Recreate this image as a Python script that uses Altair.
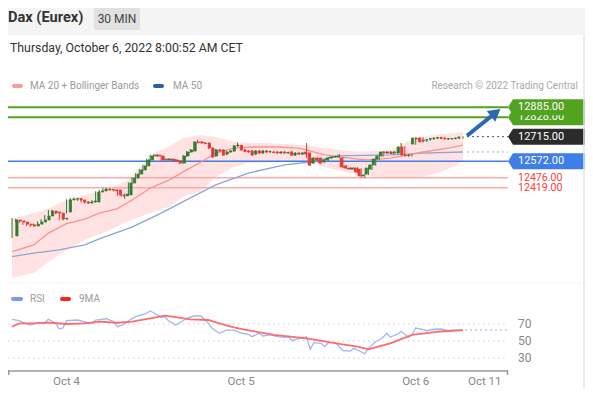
import altair as alt
import pandas as pd

# ---------------- data ----------------
open_ = [12139, 12232, 12226, 12220, 12208, 12203, 12197, 12208, 12220, 12232,
         12255, 12284, 12278, 12272, 12237, 12278, 12348, 12353, 12356, 12348,
         12336, 12330, 12336, 12336, 12394, 12400, 12411, 12406, 12406, 12406,
         12377, 12371, 12377, 12446, 12475, 12498, 12522, 12545, 12580, 12603,
         12608, 12603, 12585, 12580, 12585, 12580, 12574, 12562, 12603, 12626,
         12632, 12684, 12684, 12678, 12678, 12649, 12603, 12638, 12638, 12614,
         12626, 12632, 12661, 12664, 12638, 12632, 12632, 12614, 12632, 12620,
         12632, 12626, 12626, 12626, 12620, 12626, 12620, 12626, 12608, 12620,
         12614, 12626, 12620, 12562, 12591, 12591, 12568, 12580, 12591, 12597,
         12597, 12591, 12545, 12533, 12527, 12533, 12527, 12487, 12498, 12527,
         12551, 12585, 12603, 12626, 12620, 12626, 12620, 12620, 12655, 12608,
         12605, 12672, 12707, 12707, 12690, 12695, 12701, 12704, 12707, 12710,
         12704, 12701, 12703, 12704, 12707]
close = [12232, 12226, 12220, 12208, 12203, 12197, 12208, 12220, 12232, 12255,
         12284, 12272, 12272, 12237, 12242, 12348, 12353, 12356, 12348, 12336,
         12330, 12336, 12342, 12394, 12400, 12411, 12406, 12409, 12400, 12377,
         12371, 12382, 12446, 12475, 12498, 12522, 12545, 12580, 12603, 12608,
         12603, 12580, 12580, 12585, 12577, 12574, 12562, 12603, 12626, 12638,
         12684, 12681, 12678, 12675, 12649, 12597, 12638, 12632, 12608, 12626,
         12632, 12661, 12666, 12638, 12629, 12626, 12608, 12632, 12620, 12632,
         12626, 12629, 12623, 12620, 12626, 12620, 12623, 12608, 12620, 12614,
         12620, 12614, 12550, 12591, 12580, 12562, 12580, 12591, 12597, 12600,
         12603, 12539, 12533, 12527, 12533, 12510, 12487, 12493, 12533, 12551,
         12585, 12603, 12626, 12620, 12626, 12617, 12626, 12655, 12608, 12603,
         12608, 12707, 12701, 12684, 12695, 12698, 12704, 12707, 12710, 12704,
         12701, 12703, 12704, 12707, 12713]
high = [12243, 12240, 12232, 12224, 12214, 12208, 12212, 12224, 12237, 12260,
        12290, 12292, 12284, 12278, 12248, 12352, 12360, 12362, 12360, 12352,
        12342, 12341, 12347, 12398, 12406, 12416, 12416, 12414, 12410, 12410,
        12382, 12386, 12450, 12480, 12503, 12527, 12550, 12585, 12610, 12614,
        12613, 12607, 12590, 12591, 12590, 12585, 12578, 12608, 12632, 12643,
        12688, 12696, 12690, 12684, 12682, 12653, 12643, 12643, 12642, 12631,
        12637, 12666, 12680, 12668, 12643, 12637, 12636, 12637, 12637, 12637,
        12637, 12634, 12631, 12631, 12631, 12631, 12628, 12631, 12625, 12625,
        12626, 12678, 12625, 12596, 12596, 12595, 12585, 12596, 12602, 12605,
        12614, 12596, 12550, 12538, 12538, 12538, 12532, 12498, 12538, 12556,
        12590, 12608, 12631, 12631, 12631, 12631, 12631, 12678, 12660, 12613,
        12613, 12712, 12712, 12712, 12700, 12703, 12709, 12712, 12715, 12715,
        12708, 12707, 12709, 12712, 12717]
low = [12127, 12220, 12214, 12203, 12197, 12191, 12193, 12205, 12216, 12228,
       12250, 12266, 12266, 12230, 12230, 12270, 12342, 12348, 12342, 12332,
       12326, 12326, 12332, 12332, 12390, 12396, 12400, 12402, 12396, 12372,
       12366, 12355, 12372, 12440, 12470, 12494, 12517, 12540, 12575, 12598,
       12597, 12575, 12575, 12576, 12572, 12569, 12555, 12557, 12598, 12621,
       12628, 12676, 12673, 12670, 12644, 12592, 12598, 12627, 12603, 12609,
       12621, 12627, 12657, 12633, 12624, 12621, 12603, 12609, 12615, 12615,
       12621, 12621, 12618, 12615, 12615, 12615, 12615, 12603, 12603, 12609,
       12609, 12591, 12545, 12557, 12575, 12557, 12563, 12575, 12586, 12592,
       12592, 12534, 12528, 12522, 12522, 12505, 12475, 12475, 12493, 12522,
       12546, 12580, 12598, 12615, 12615, 12612, 12615, 12615, 12603, 12598,
       12600, 12668, 12696, 12680, 12685, 12690, 12696, 12700, 12703, 12700,
       12696, 12697, 12699, 12700, 12703]

bb_idx = [0, 6, 10, 15, 20, 27, 32, 35, 38, 43, 47, 52, 56, 61, 65, 70, 75, 79,
          82, 86, 95, 104, 109, 113, 117, 122, 124]
bb_upper = [12238, 12272, 12298, 12348, 12377, 12417, 12464, 12533, 12608, 12655,
            12707, 12724, 12713, 12684, 12678, 12678, 12672, 12666, 12661, 12649,
            12626, 12637, 12690, 12713, 12727, 12736, 12742]
bb_lower = [11895, 11924, 11988, 12058, 12116, 12174, 12226, 12249, 12272, 12307,
            12365, 12400, 12481, 12539, 12562, 12565, 12568, 12568, 12568, 12539,
            12493, 12475, 12475, 12481, 12504, 12545, 12580]

ma20_idx = [0, 6, 10, 15, 20, 24, 29, 33, 36, 38, 43, 48, 52, 56, 61, 66, 73, 79,
            86, 95, 98, 104, 113, 120, 124]
ma20 = [12049, 12087, 12156, 12211, 12237, 12272, 12298, 12348, 12388, 12417,
        12461, 12522, 12568, 12620, 12649, 12655, 12655, 12649, 12609, 12585,
        12580, 12591, 12626, 12649, 12666]

ma50_idx = [0, 6, 13, 20, 24, 33, 41, 48, 56, 65, 75, 82, 90, 104, 113, 124]
ma50 = [12020, 12040, 12058, 12087, 12122, 12191, 12272, 12348, 12435, 12504,
        12551, 12568, 12603, 12609, 12620, 12626]

rsi_idx = [0, 2, 4, 5, 7, 9, 10, 12, 13, 14, 15, 18, 21, 22, 23, 26, 28, 29, 31, 32,
           34, 37, 38, 40, 41, 42, 43, 45, 47, 48, 50, 52, 54, 55, 57, 59, 61, 63, 65, 66,
           68, 69, 71, 73, 75, 76, 77, 79, 81, 82, 83, 85, 86, 87, 89, 90, 91, 93, 94, 96,
           97, 98, 100, 102, 103, 104, 106, 107, 109, 110, 111, 113, 114, 116, 118, 120,
           121, 124]
rsi = [75.5, 73.9, 70, 68.8, 71.2, 71.5, 75.5, 71.2, 64.1, 65.3,
       73.9, 74.7, 71.2, 71.2, 74.7, 76.2, 72.7, 66.8, 70, 73.9,
       78.6, 82.6, 85.3, 80.6, 77.9, 78.6, 73.9, 68.8, 73.9, 76.7,
       79.4, 79.4, 70.8, 64.9, 59.1, 62.9, 62.9, 59.4, 57.9, 55.1,
       59.1, 55.9, 57.1, 55.1, 54.4, 55.3, 50.4, 53.2, 54.7, 40.2,
       48, 47.3, 43.3, 48, 48, 43.3, 38.8, 38.2, 41.4, 37.4,
       34.9, 41.4, 49.2, 54.1, 59.1, 54.7, 57.9, 61.2, 54.7, 57.1,
       65.3, 63.5, 62.1, 63.8, 64.1, 62.1, 62.9, 62.9]
rsi_ma_idx = [0, 2, 6, 10, 15, 20, 24, 29, 33, 38, 42, 44, 49, 54, 57, 61, 65, 72,
              81, 90, 95, 98, 104, 110, 118, 124]
rsi_ma = [66.8, 70.8, 70.8, 71.5, 70, 70.8, 72.7, 71.5, 72.7, 76.7, 79.8, 78.6,
          75.5, 74.7, 70.8, 66.1, 62.6, 57.1, 53.2, 46.5, 43.3, 40.2, 47.3, 57.1,
          61.2, 62.9]

levels_resist = [12885, 12828]
level_pivot = [12572]
levels_support = [12476, 12419]
last_price = [12715]
rsi_grid = [70, 50, 30]
day_labels = ["Oct 4", "Oct 5", "Oct 6", "Oct 11"]
day_idx = [15, 63, 111, 130]
arrow_idx = [125.1, 133.0]
arrow_price = [12720, 12854]

# ---------------- styling ----------------
FONT = "Roboto"
UP = "#2e7d32"
DOWN = "#e53935"
GREEN = "#52a31f"
BLUE = "#3f7de8"
PINK = "#ffaaaa"

X = alt.Scale(domain=[-1.1, 136.38], range=[0, 500], nice=False, zero=False)
YP = alt.Scale(domain=[11850, 12950], range=[277.85, 88.1], nice=False, zero=False)
YR = alt.Scale(domain=[30, 70], range=[350, 316], nice=False, zero=False)

one = pd.DataFrame({"k": [0]})
candles = pd.DataFrame({"i": list(range(len(close))), "open": open_, "high": high,
                        "low": low, "close": close})
candles["dir"] = ["up" if c >= o else "down" for o, c in zip(open_, close)]
bb = pd.DataFrame({"i": bb_idx, "upper": bb_upper, "lower": bb_lower})
m20 = pd.DataFrame({"i": ma20_idx, "p": ma20})
m50 = pd.DataFrame({"i": ma50_idx, "p": ma50})
rs = pd.DataFrame({"i": rsi_idx, "v": rsi})
rsm = pd.DataFrame({"i": rsi_ma_idx, "v": rsi_ma})
arrow = pd.DataFrame({"i": arrow_idx, "p": arrow_price})
head = arrow.tail(1)
days = pd.DataFrame({"i": day_idx, "t": day_labels})


def xq(f="i"):
    return alt.X(f"{f}:Q", scale=X, axis=None)


def yp(f="p"):
    return alt.Y(f"{f}:Q", scale=YP, axis=None)


def yr(f="v"):
    return alt.Y(f"{f}:Q", scale=YR, axis=None)


def txt(s, x, y, size=11, color="#999999", weight="normal", align="left"):
    return alt.Chart(one).mark_text(text=s, align=align, baseline="middle", fontSize=size,
                                    font=FONT, color=color, fontWeight=weight).encode(
        x=alt.value(x), y=alt.value(y))


def box(x, x2, y, y2, color, r=0):
    return alt.Chart(one).mark_rect(color=color, cornerRadius=r).encode(
        x=alt.value(x), x2=alt.value(x2), y=alt.value(y), y2=alt.value(y2))


def hrule(x, x2, y, color, w=1, dash=None):
    kw = {"color": color, "strokeWidth": w}
    if dash:
        kw["strokeDash"] = dash
    return alt.Chart(one).mark_rule(**kw).encode(
        x=alt.value(x), x2=alt.value(x2), y=alt.value(y))


def level_lines(vals, color, w):
    return alt.Chart(pd.DataFrame({"p": vals})).mark_rule(color=color, strokeWidth=w).encode(
        y=yp(), x=alt.value(0), x2=alt.value(500))


TAG = "M-1,0L-0.87,-0.208L1,-0.208L1,0.208L-0.87,0.208Z"


def tag(vals, color):
    return alt.Chart(pd.DataFrame({"p": vals})).mark_point(
        shape=TAG, filled=True, size=5929, opacity=1, color=color, strokeWidth=0).encode(
        y=yp(), x=alt.value(538.5))


def tag_text(vals, color="white", size=11):
    d = pd.DataFrame({"p": vals, "t": [f"{v:.2f}" for v in vals]})
    return alt.Chart(d).mark_text(align="left", baseline="middle", fontSize=size, font=FONT,
                                  color=color).encode(y=yp(), x=alt.value(510), text="t:N")


dir_scale = alt.Scale(domain=["up", "down"], range=[UP, DOWN])

layers = [
    # header
    box(0, 577, 0, 27, "#f4f4f4"),
    box(86, 132, 0, 22, "#e1e1e1", 2),
    txt("Dax (Eurex)", 0, 10, 14.6, "#333333", "bold"),
    txt("30 MIN", 109, 11, 12, "#444444", align="center"),
    txt("Thursday, October 6, 2022 8:00:52 AM CET", 2, 40, 12.3, "#333333"),
    # legend
    box(4, 15, 76, 80, "#ff9a9a", 2),
    txt("MA 20 + Bollinger Bands", 22, 78, 10, "#9a9a9a"),
    box(145, 156, 76, 80, "#2f5ea8", 2),
    txt("MA 50", 165, 78, 10, "#9a9a9a"),
    txt("Research \u00a9 2022 Trading Central", 570, 78, 10, "#aaaaaa", align="right"),
    # Bollinger band
    alt.Chart(bb).mark_area(color="#ffdcdc", opacity=0.8).encode(
        x=xq(), y=yp("upper"), y2="lower:Q"),
    # levels
    level_lines(levels_resist, GREEN, 2),
    level_lines(level_pivot, BLUE, 1.5),
    level_lines(levels_support, PINK, 1.5),
    # moving averages
    alt.Chart(m50).mark_line(color="#8aa6d8", strokeWidth=1.3).encode(x=xq(), y=yp()),
    alt.Chart(m20).mark_line(color="#ff8f8f", strokeWidth=1.3).encode(x=xq(), y=yp()),
    # candles
    alt.Chart(candles).mark_rule(strokeWidth=1).encode(
        x=xq(), y=yp("low"), y2="high:Q",
        color=alt.Color("dir:N", scale=dir_scale, legend=None)),
    alt.Chart(candles).mark_bar(size=2.2, strokeWidth=0.8).encode(
        x=xq(), y=yp("open"), y2="close:Q",
        color=alt.Color("dir:N", scale=dir_scale, legend=None),
        stroke=alt.Stroke("dir:N", scale=dir_scale, legend=None)),
    # dotted to labels
    alt.Chart(pd.DataFrame({"p": last_price})).mark_rule(
        color="#555555", strokeWidth=1, strokeDash=[2, 3]).encode(
        y=yp(), x=alt.value(459), x2=alt.value(500)),
    alt.Chart(m50.tail(1)).mark_rule(color="#8fa8e6", strokeWidth=1, strokeDash=[2, 3]).encode(
        y=yp(), x=alt.value(459), x2=alt.value(500)),
    # arrow
    alt.Chart(arrow).mark_line(color="#2f68b2", strokeWidth=4).encode(x=xq(), y=yp()),
    alt.Chart(head).mark_point(shape="triangle-up", angle=52, size=190, filled=True,
                               opacity=1, color="#2f68b2", strokeWidth=0).encode(
        x=xq(), y=yp()),
    # price tags
    tag([12828], GREEN), tag_text([12828]),
    tag([12885], GREEN), tag_text([12885]),
    tag(last_price, "#2b2b2b"), tag_text(last_price),
    tag(level_pivot, BLUE), tag_text(level_pivot),
    tag_text(levels_support, "#ff3b3b", 10.6),
    # separator & border
    hrule(0, 577, 275, "#e6e6e6", 1, [1, 2]),
    alt.Chart(one).mark_rule(color="#e4e4e4", strokeWidth=1.5).encode(
        x=alt.value(576), y=alt.value(27), y2=alt.value(380)),
    # RSI legend
    box(3, 15, 289, 293, "#7b9be8", 2),
    txt("RSI", 22, 291, 10, "#9a9a9a"),
    box(52, 63, 289, 293, "#ff1f1f", 2),
    txt("9MA", 71, 291, 10, "#9a9a9a"),
    # RSI grid
    alt.Chart(pd.DataFrame({"v": rsi_grid})).mark_rule(
        color="#cccccc", strokeWidth=1, strokeDash=[1.5, 3.5]).encode(
        y=yr(), x=alt.value(0), x2=alt.value(497)),
    alt.Chart(pd.DataFrame({"v": rsi_grid, "t": [str(v) for v in rsi_grid]})).mark_text(
        align="left", baseline="middle", fontSize=12, font=FONT, color="#888888").encode(
        y=yr(), x=alt.value(510), text="t:N"),
    alt.Chart(rs.tail(1)).mark_rule(color="#8fa8f0", strokeWidth=1, strokeDash=[2, 3]).encode(
        y=yr(), x=alt.value(457), x2=alt.value(500)),
    alt.Chart(rs).mark_line(color="#9fb6f2", strokeWidth=1.3).encode(x=xq(), y=yr()),
    alt.Chart(rsm).mark_line(color="#ff6b6b", strokeWidth=1.8).encode(x=xq(), y=yr()),
    # time axis
    hrule(0, 500, 363, "#9a9a9a", 1.5),
    alt.Chart(one).mark_rule(color="#9a9a9a", strokeWidth=1.5).encode(
        x=alt.value(0.75), y=alt.value(362), y2=alt.value(367)),
    alt.Chart(one).mark_rule(color="#9a9a9a", strokeWidth=1.5).encode(
        x=alt.value(499.5), y=alt.value(362), y2=alt.value(367)),
    alt.Chart(days).mark_text(align="center", baseline="middle", fontSize=11.5, font=FONT,
                              color="#888888").encode(x=xq(), y=alt.value(373.5), text="t:N"),
]

chart = alt.layer(*layers).resolve_scale(
    x="independent", y="independent", color="independent", stroke="independent"
).properties(
    width=577, height=380, padding=0, autosize=alt.AutoSizeParams(type="none")
).configure_view(strokeWidth=0)

chart.save("out.html", embed_options={"renderer": "svg", "actions": False})
